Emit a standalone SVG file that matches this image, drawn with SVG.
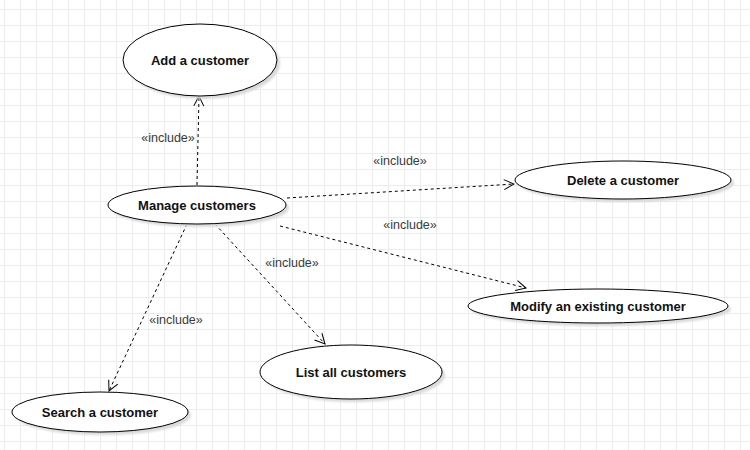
<svg xmlns="http://www.w3.org/2000/svg" width="750" height="450" viewBox="0 0 750 450">
<defs>
<pattern id="grid" x="4" y="9" width="16" height="16" patternUnits="userSpaceOnUse">
<path d="M0.5 0V16M0 0.5H16" fill="none" stroke="#ececec" stroke-width="1"/>
</pattern>
<marker id="open" viewBox="0 0 12 12" refX="11" refY="6" markerWidth="12" markerHeight="12" markerUnits="userSpaceOnUse" orient="auto">
<path d="M1 1L11 6L1 11" fill="none" stroke="#000" stroke-width="1"/>
</marker>
<filter id="sh" x="-10%" y="-20%" width="130%" height="160%">
<feGaussianBlur stdDeviation="1"/>
</filter>
</defs>
<style>
.uc{fill:#fff;stroke:#000;stroke-width:1}
.shd{fill:#d9d9d9;filter:url(#sh)}
.lbl{font-family:"Liberation Sans",Arial,sans-serif;font-size:13px;font-weight:bold;fill:#111;text-anchor:middle;dominant-baseline:central}
.inc{font-family:"Liberation Sans",Arial,sans-serif;font-size:12.5px;fill:#3a3a3a;text-anchor:middle;dominant-baseline:central}
.edge{fill:none;stroke:#000;stroke-width:1;stroke-dasharray:3 3;marker-end:url(#open)}
</style>
<rect width="750" height="450" fill="#fff"/>
<rect width="750" height="450" fill="url(#grid)"/>
<g id="connectors">
<path class="edge" d="M197 185L199 96"/>
<path class="edge" d="M287 198L514 184"/>
<path class="edge" d="M280 226L526 288"/>
<path class="edge" d="M215 224L325 344"/>
<path class="edge" d="M187 224L109 391"/>
<text class="inc" x="168" y="138">«include»</text>
<text class="inc" x="400" y="161">«include»</text>
<text class="inc" x="410" y="225">«include»</text>
<text class="inc" x="292" y="263">«include»</text>
<text class="inc" x="176" y="320">«include»</text>
</g>
<g id="add">
<ellipse class="shd" cx="203" cy="63" rx="77" ry="36"/>
<ellipse class="uc" cx="200" cy="60" rx="77" ry="36"/>
<text class="lbl" x="200" y="60">Add a customer</text>
</g>
<g id="manage">
<ellipse class="shd" cx="200" cy="208" rx="89" ry="19"/>
<ellipse class="uc" cx="197" cy="205" rx="89" ry="19"/>
<text class="lbl" x="197" y="205">Manage customers</text>
</g>
<g id="delete">
<ellipse class="shd" cx="626" cy="183" rx="108" ry="19"/>
<ellipse class="uc" cx="623" cy="180" rx="108" ry="19"/>
<text class="lbl" x="623" y="180">Delete a customer</text>
</g>
<g id="modify">
<ellipse class="shd" cx="601" cy="309" rx="130" ry="17"/>
<ellipse class="uc" cx="598" cy="306" rx="130" ry="17"/>
<text class="lbl" x="598" y="306">Modify an existing customer</text>
</g>
<g id="list">
<ellipse class="shd" cx="354" cy="375" rx="91" ry="27"/>
<ellipse class="uc" cx="351" cy="372" rx="91" ry="27"/>
<text class="lbl" x="351" y="372">List all customers</text>
</g>
<g id="search">
<ellipse class="shd" cx="103" cy="415" rx="88" ry="20"/>
<ellipse class="uc" cx="100" cy="412" rx="88" ry="20"/>
<text class="lbl" x="100" y="412">Search a customer</text>
</g>
</svg>
